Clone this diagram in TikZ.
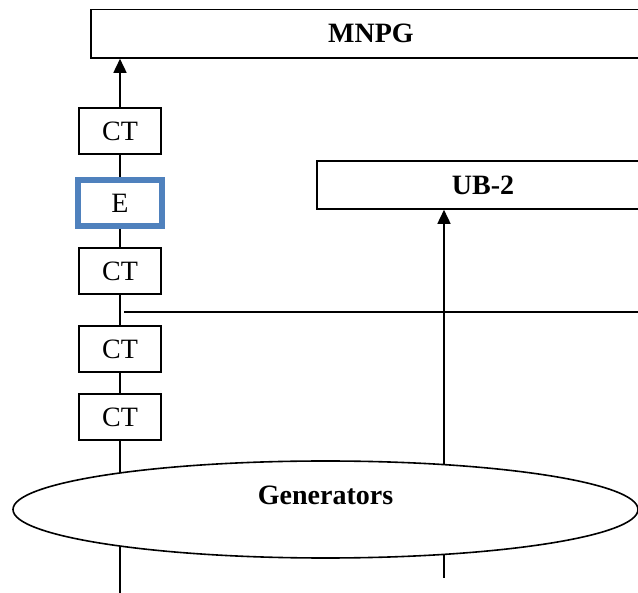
\documentclass[tikz,border=0pt]{standalone}
\usepackage{fontspec}
\setmainfont{Liberation Serif}
\usetikzlibrary{arrows.meta,shapes.geometric}
\definecolor{eblue}{HTML}{4F81BD}
\begin{document}
\begin{tikzpicture}[x=1pt,y=-1pt,
  line width=1.6pt,
  every node/.style={font=\fontsize{28}{30}\selectfont},
  ctbox/.style={draw, rectangle, minimum width=82pt, minimum height=46pt, inner sep=0pt},
  ebox/.style={draw=eblue, line width=6pt, rectangle, minimum width=84pt, minimum height=46pt, inner sep=0pt},
  bigbox/.style={draw, rectangle, inner sep=0pt, font=\fontsize{28}{30}\selectfont\bfseries},
  arr/.style={-{Triangle[width=13pt,length=14pt]}}]
\useasboundingbox (0,0) rectangle (638,593);
\fill[white] (0,0) rectangle (638,593);
\begin{scope}
\clip (0,0) rectangle (638,593);
% big boxes
\node[bigbox, minimum width=560pt, minimum height=48.5pt] (mnpg) at (371,33.75) {MNPG};
\node[bigbox, minimum width=332pt, minimum height=48pt] (ub) at (483,185) {UB-2};
% chain
\node[ctbox] (ct1) at (120,131) {CT};
\node[ebox] (e) at (120,203) {E};
\node[ctbox] (ct2) at (120,271) {CT};
\node[ctbox] (ct3) at (120,349) {CT};
\node[ctbox] (ct4) at (120,417) {CT};
% generators
\node[draw, ellipse, minimum width=625pt, minimum height=97pt, inner sep=0pt,
  label={[yshift=14pt,font=\fontsize{28}{30}\selectfont\bfseries]center:Generators}] (gen) at (325.5,509.5) {};
% coordinates
\coordinate (gtl) at (120,473);
\coordinate (gbl) at (120,546.5);
\coordinate (bl) at (120,593);
\coordinate (gtr) at (444,464.6);
\coordinate (gbr) at (444,554.4);
\coordinate (br) at (444,578);
\coordinate (hs) at (124,312);
\coordinate (he) at (640,312);
% connectors
\draw[arr] (ct1.north) -- (ct1.north |- mnpg.south);
\draw (ct1) -- (e);
\draw (e) -- (ct2);
\draw (ct2) -- (ct3);
\draw (ct3) -- (ct4);
\draw (ct4) -- (gtl);
\draw (gbl) -- (bl);
\draw (hs) -- (he);
\draw[arr] (gtr) -- (gtr |- ub.south);
\draw (gbr) -- (br);
\end{scope}
\end{tikzpicture}
\end{document}
